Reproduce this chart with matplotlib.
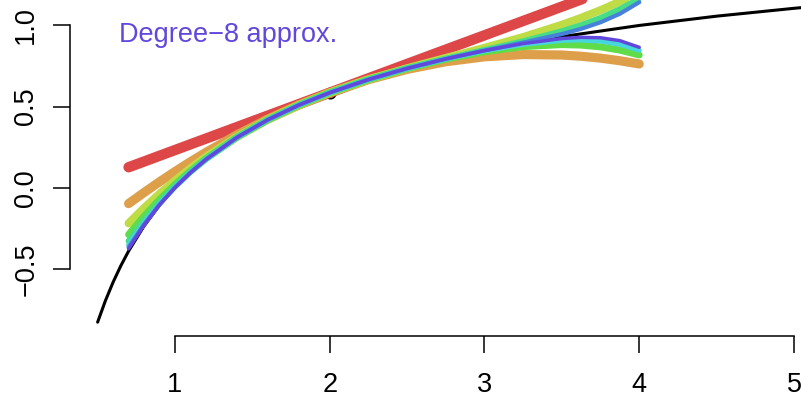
import matplotlib
matplotlib.use("Agg")
import matplotlib.pyplot as plt

plt.rcParams['font.family'] = ['Liberation Sans', 'DejaVu Sans']

#the true curve
x_true = [0.5, 0.55, 0.6, 0.65, 0.7, 0.8, 0.9, 1.0, 1.1, 1.2, 1.4, 1.6, 1.8, 2.0,
          2.25, 2.5, 2.75, 3.0, 3.5, 4.0, 4.5, 5.0, 5.2]
y_true = [-0.8284, -0.6968, -0.5820, -0.4807, -0.3905, -0.2361, -0.1082, 0.0, 0.0931,
          0.1743, 0.3097, 0.4189, 0.5093, 0.5858, 0.6667, 0.7351, 0.7940, 0.8453,
          0.9310, 1.0, 1.0572, 1.1056, 1.1229]

#expansion point
x0 = 2.0
y0 = 0.5858

#the approximations, degree 1 to 8
x_approx = [0.7, 0.8, 0.9, 1.0, 1.1, 1.2, 1.4, 1.6, 1.8, 2.0, 2.25, 2.5, 2.75, 3.0,
            3.25, 3.5, 3.625, 3.75, 3.875, 4.0]
deg1 = [0.1262, 0.1615, 0.1969, 0.2322, 0.2676, 0.3029, 0.3737, 0.4444, 0.5151, 0.5858,
        0.6742, 0.7626, 0.8510, 0.9393, 1.0277, 1.1161, 1.1603, 1.2045, 1.2487, 1.2929]
deg2 = [-0.0979, -0.0294, 0.0365, 0.0997, 0.1602, 0.2181, 0.3259, 0.4232, 0.5098, 0.5858,
        0.6659, 0.7294, 0.7764, 0.8068, 0.8206, 0.8178, 0.8102, 0.7985, 0.7826, 0.7626]
deg3 = [-0.2193, -0.1249, -0.0371, 0.0444, 0.1199, 0.1898, 0.3140, 0.4196, 0.5093, 0.5858,
        0.6668, 0.7363, 0.7997, 0.8620, 0.9285, 1.0042, 1.0473, 1.0945, 1.1467, 1.2045]
deg4 = [-0.2883, -0.1750, -0.0725, 0.0202, 0.1041, 0.1799, 0.3109, 0.4190, 0.5093, 0.5858,
        0.6667, 0.7348, 0.7920, 0.8378, 0.8695, 0.8819, 0.8787, 0.8679, 0.8480, 0.8178]
deg5 = [-0.3287, -0.2020, -0.0900, 0.0094, 0.0976, 0.1763, 0.3100, 0.4189, 0.5093, 0.5858,
        0.6667, 0.7352, 0.7946, 0.8487, 0.9026, 0.9645, 1.0020, 1.0464, 1.1001, 1.1658]
deg6 = [-0.3527, -0.2169, -0.0988, 0.0044, 0.0950, 0.1750, 0.3098, 0.4189, 0.5093, 0.5858,
        0.6667, 0.7351, 0.7937, 0.8437, 0.8836, 0.9077, 0.9102, 0.9032, 0.8835, 0.8468]
deg7 = [-0.3673, -0.2252, -0.1033, 0.0021, 0.0939, 0.1746, 0.3097, 0.4189, 0.5093, 0.5858,
        0.6667, 0.7351, 0.7940, 0.8460, 0.8947, 0.9472, 0.9794, 1.0195, 1.0720, 1.1431]
deg8 = [-0.3761, -0.2299, -0.1056, 0.0010, 0.0934, 0.1744, 0.3097, 0.4189, 0.5093, 0.5858,
        0.6667, 0.7351, 0.7939, 0.8450, 0.8882, 0.9194, 0.9267, 0.9241, 0.9063, 0.8653]

approx = [deg1, deg2, deg3, deg4, deg5, deg6, deg7, deg8]
colors = ['#DE4747', '#DE9F4A', '#BFDC47', '#5FDC47', '#47DC85', '#47D6DC', '#4781DC', '#6247DC']
widths = [7.5, 6.6, 5.8, 5.0, 4.3, 3.6, 3.0, 2.5]

xticks = [1, 2, 3, 4, 5]
yticks = [-0.5, 0.0, 0.5, 1.0]
ytick_labels = ['\u22120.5', '0.0', '0.5', '1.0']

W, H = 801, 397
fig = plt.figure(figsize=(W / 100, H / 100), dpi=100)

#axes placed so data lines up with the pixel positions in the reference
xmin, xmax = 0.3215, 5.3
ymin, ymax = -0.9136, 1.25
px_left = 70
px_right = 175 + (xmax - 1) * 154.75
px_bottom = 336
px_top = 188 - ymax * 162.5
ax = fig.add_axes([px_left / W, (H - px_bottom) / H,
                   (px_right - px_left) / W, (px_bottom - px_top) / H])
ax.set_xlim(xmin, xmax)
ax.set_ylim(ymin, ymax)

ax.plot(x_true, y_true, color='black', lw=2.2, solid_capstyle='round', zorder=2)
ax.plot([x0], [y0], 'o', mfc='none', mec='black', ms=7.5, mew=1.2, zorder=2)

for i in range(len(approx)):
    ax.plot(x_approx, approx[i], color=colors[i], lw=widths[i],
            solid_capstyle='round', zorder=3 + i)

ax.text(0.64, 0.94, 'Degree\u22128 approx.', color=colors[7], fontsize=19.5,
        ha='left', va='center')

#R style axes
for s in ['top', 'right']:
    ax.spines[s].set_visible(False)
ax.spines['left'].set_bounds(-0.5, 1.0)
ax.spines['bottom'].set_bounds(1, 5)
for s in ['left', 'bottom']:
    ax.spines[s].set_linewidth(1.1)
ax.set_xticks(xticks)
ax.set_xticklabels([str(t) for t in xticks])
ax.set_yticks(yticks)
ax.set_yticklabels(ytick_labels, rotation=90, va='center')
ax.tick_params(axis='both', direction='out', length=12.2, width=1.1, labelsize=19.5)
ax.tick_params(axis='x', pad=14)
ax.tick_params(axis='y', pad=10)

fig.savefig('out.png', dpi=100)
